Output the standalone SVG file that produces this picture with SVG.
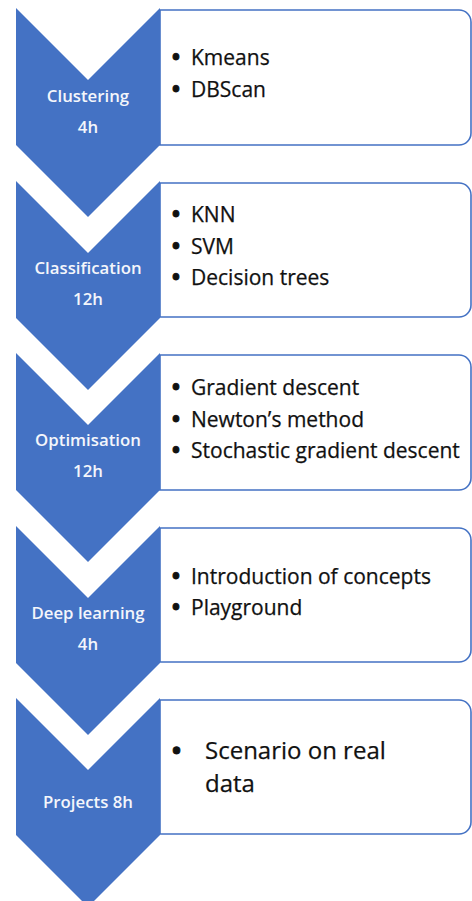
<svg xmlns="http://www.w3.org/2000/svg" width="472" height="901" viewBox="0 0 472 901">
<style>
.chev{fill:#4472C4}
.box{fill:#FFFFFF;stroke:#4472C4;stroke-width:1.6}
.lbl{font-family:"Open Sans","Noto Sans",sans-serif;font-weight:600;font-size:16.8px;fill:#F4F6FB;text-anchor:middle}
.item{font-family:"Open Sans","Noto Sans",sans-serif;font-size:21px;fill:#111111;stroke:#111111;stroke-width:0.25}
.dot{font-weight:700;stroke-width:1}
.big{font-family:"Open Sans","Noto Sans",sans-serif;font-size:24px;fill:#111111;stroke:#111111;stroke-width:0.25}
</style>
<rect width="472" height="901" fill="#FFFFFF"/>
<g id="step1">
<path class="box" d="M160,10 H459 A12,12 0 0 1 471,22 V133 A12,12 0 0 1 459,145 H160 Z"/>
<polygon class="chev" points="16,8 88,80 160,8 160,145 88,217 16,145"/>
<text class="lbl" x="88" y="102">Clustering</text>
<text class="lbl" x="88" y="133">4h</text>
<text class="item" x="172" y="65"><tspan class="dot">•</tspan><tspan x="191">Kmeans</tspan></text>
<text class="item" x="172" y="97"><tspan class="dot">•</tspan><tspan x="191">DBScan</tspan></text>
</g>
<g id="step2">
<path class="box" d="M160,183 H459 A12,12 0 0 1 471,195 V305 A12,12 0 0 1 459,317 H160 Z"/>
<polygon class="chev" points="16,181 88,253 160,181 160,318 88,390 16,318"/>
<text class="lbl" x="88" y="274">Classification</text>
<text class="lbl" x="88" y="305">12h</text>
<text class="item" x="172" y="222"><tspan class="dot">•</tspan><tspan x="191">KNN</tspan></text>
<text class="item" x="172" y="254"><tspan class="dot">•</tspan><tspan x="191">SVM</tspan></text>
<text class="item" x="172" y="285"><tspan class="dot">•</tspan><tspan x="191">Decision trees</tspan></text>
</g>
<g id="step3">
<path class="box" d="M160,355 H459 A12,12 0 0 1 471,367 V478 A12,12 0 0 1 459,490 H160 Z"/>
<polygon class="chev" points="16,353 88,425 160,353 160,490 88,562 16,490"/>
<text class="lbl" x="88" y="446">Optimisation</text>
<text class="lbl" x="88" y="477">12h</text>
<text class="item" x="172" y="395"><tspan class="dot">•</tspan><tspan x="191">Gradient descent</tspan></text>
<text class="item" x="172" y="427"><tspan class="dot">•</tspan><tspan x="191">Newton’s method</tspan></text>
<text class="item" x="172" y="458"><tspan class="dot">•</tspan><tspan x="191">Stochastic gradient descent</tspan></text>
</g>
<g id="step4">
<path class="box" d="M160,528 H459 A12,12 0 0 1 471,540 V650 A12,12 0 0 1 459,662 H160 Z"/>
<polygon class="chev" points="16,526 88,598 160,526 160,663 88,735 16,663"/>
<text class="lbl" x="88" y="619">Deep learning</text>
<text class="lbl" x="88" y="650">4h</text>
<text class="item" x="172" y="584"><tspan class="dot">•</tspan><tspan x="191">Introduction of concepts</tspan></text>
<text class="item" x="172" y="615"><tspan class="dot">•</tspan><tspan x="191">Playground</tspan></text>
</g>
<g id="step5">
<path class="box" d="M160,700 H459 A12,12 0 0 1 471,712 V822 A12,12 0 0 1 459,834 H160 Z"/>
<polygon class="chev" points="16,698 88,770 160,698 160,835 88,907 16,835"/>
<text class="lbl" x="88" y="808">Projects 8h</text>
<text class="big" x="172" y="759"><tspan class="dot">•</tspan><tspan x="205">Scenario on real</tspan></text>
<text class="big" x="205" y="792">data</text>
</g>
<g id="connectors"/>
</svg>
